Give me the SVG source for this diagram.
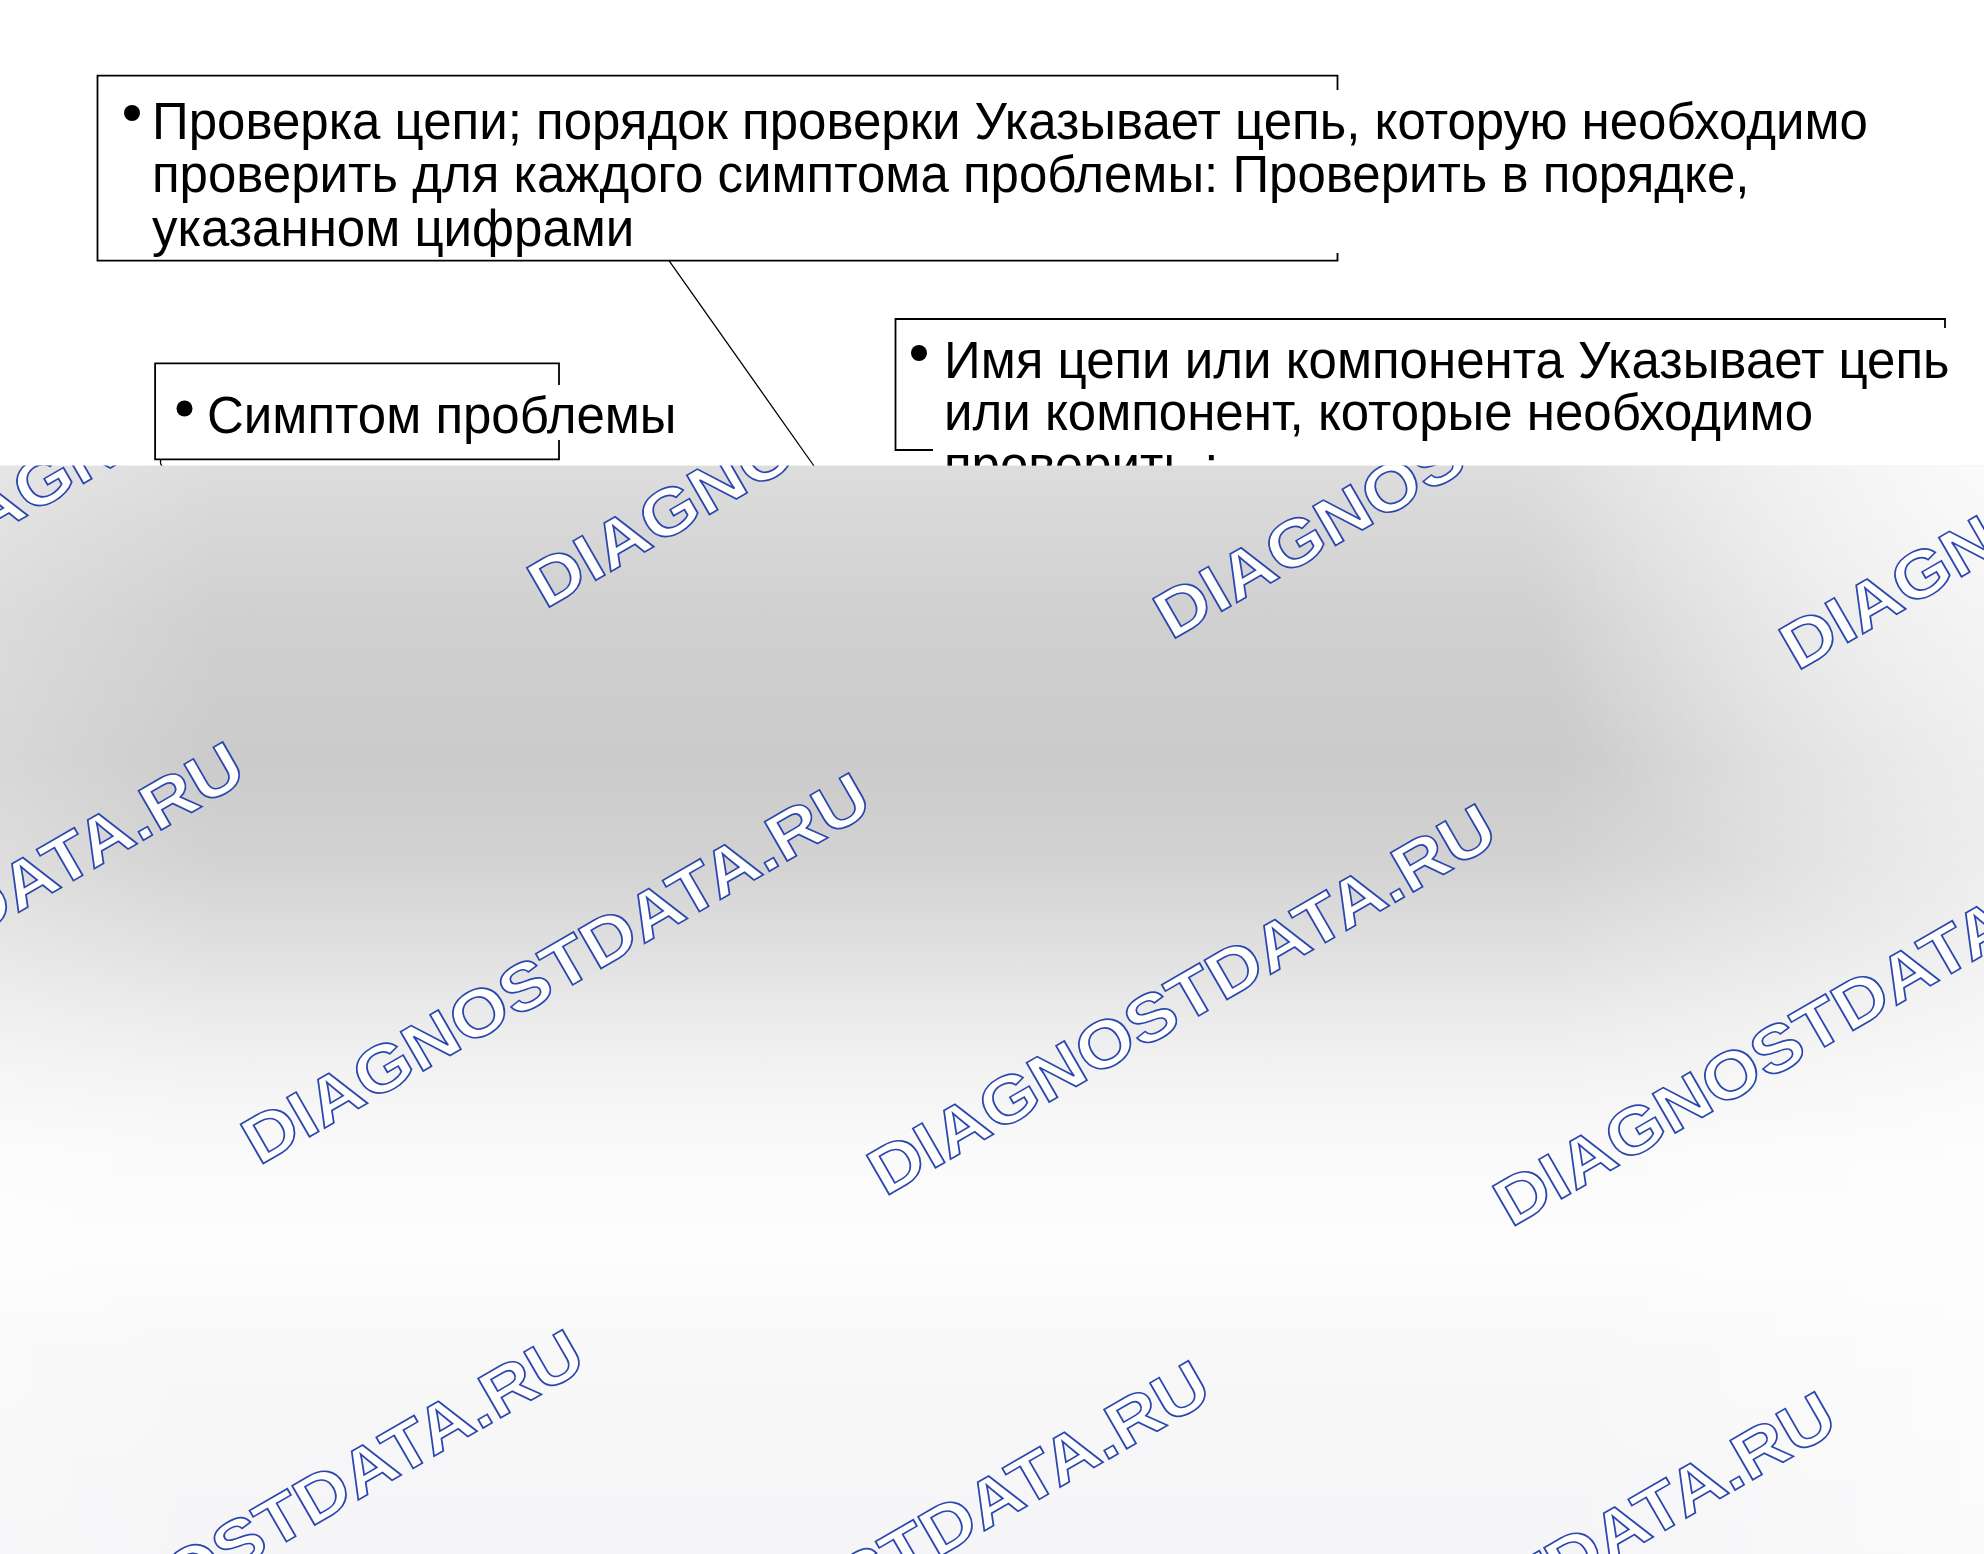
<svg xmlns="http://www.w3.org/2000/svg" width="1984" height="1554" viewBox="0 0 1984 1554">
<style>
.box{fill:none;stroke:#000;stroke-width:1.8}
.lbl{font-family:"Liberation Sans",Arial,sans-serif;font-size:51px;fill:#000}
.dot{fill:#000}
.con{fill:none;stroke:#000;stroke-width:1.3}
.wm{font-family:"Liberation Sans",Arial,sans-serif;font-weight:bold;font-size:66px;fill:#fff;stroke:#2b47ad;stroke-width:1.6}
</style>
<defs>
<linearGradient id="gv" x1="0" y1="465.6" x2="0" y2="1554" gradientUnits="userSpaceOnUse">
<stop offset="0" stop-color="#dddddd"/>
<stop offset="0.05" stop-color="#d8d8d8"/>
<stop offset="0.14" stop-color="#d0d0d0"/>
<stop offset="0.27" stop-color="#cbcbcb"/>
<stop offset="0.36" stop-color="#d2d2d2"/>
<stop offset="0.445" stop-color="#e0e0e0"/>
<stop offset="0.5" stop-color="#eaeaea"/>
<stop offset="0.56" stop-color="#f3f3f3"/>
<stop offset="0.63" stop-color="#fafafa"/>
<stop offset="0.72" stop-color="#fdfdfd"/>
<stop offset="0.81" stop-color="#f8f8f9"/>
<stop offset="1" stop-color="#f5f5f7"/>
</linearGradient>
<linearGradient id="gr" x1="1550" y1="0" x2="1984" y2="0" gradientUnits="userSpaceOnUse">
<stop offset="0" stop-color="#fff" stop-opacity="0"/>
<stop offset="1" stop-color="#fff" stop-opacity="0.55"/>
</linearGradient>
<radialGradient id="gtr" cx="1984" cy="470" r="480" gradientUnits="userSpaceOnUse">
<stop offset="0" stop-color="#fff" stop-opacity="0.7"/>
<stop offset="1" stop-color="#fff" stop-opacity="0"/>
</radialGradient>
<linearGradient id="gl" x1="0" y1="0" x2="220" y2="0" gradientUnits="userSpaceOnUse">
<stop offset="0" stop-color="#fff" stop-opacity="0.25"/>
<stop offset="1" stop-color="#fff" stop-opacity="0"/>
</linearGradient>
<clipPath id="clipGray"><rect x="0" y="465.6" width="1984" height="1088.4"/></clipPath>
</defs>
<rect x="0" y="0" width="1984" height="1554" fill="#fff"/>

<g id="connectors">
<path class="con" d="M669,260.6 L814,466"/>
<path class="con" d="M161,459.3 Q159.5,463 162,466"/>
</g>

<g id="node-check-order">
<path class="box" d="M1337.5,90 V75.7 H97.5 V260.6 H1337.5 V253"/>
<circle class="dot" cx="132" cy="113" r="8"/>
<text class="lbl" x="152" y="138.8">Проверка цепи; порядок проверки Указывает цепь, которую необходимо</text>
<text class="lbl" x="152" y="192.3">проверить для каждого симптома проблемы: Проверить в порядке,</text>
<text class="lbl" x="152" y="245.8">указанном цифрами</text>
</g>

<g id="node-symptom">
<path class="box" d="M559,385 V363.3 H155.1 V459.3 H559 V440"/>
<circle class="dot" cx="184.5" cy="408.5" r="8"/>
<text class="lbl" x="207" y="432.5">Симптом проблемы</text>
</g>

<g id="node-circuit-name">
<path class="box" d="M1945,328 V319 H895.5 V450 H933"/>
<circle class="dot" cx="919" cy="353" r="8"/>
<text class="lbl" x="944" y="377.5">Имя цепи или компонента Указывает цепь</text>
<text class="lbl" x="944" y="430">или компонент, которые необходимо</text>
<text class="lbl" x="944" y="482.5">проверить :</text>
</g>

<g id="backdrop">
<rect x="0" y="465.6" width="1984" height="1088.4" fill="url(#gv)"/>
<rect x="0" y="465.6" width="1984" height="1088.4" fill="url(#gr)"/>
<rect x="0" y="465.6" width="1984" height="1088.4" fill="url(#gtr)"/>
<rect x="0" y="465.6" width="1984" height="1088.4" fill="url(#gl)"/>
</g>

<g id="watermarks" clip-path="url(#clipGray)">
<text class="wm" transform="translate(-80.7,578.3) rotate(-30) scale(1.12,1)">DIAGNOSTDATA.RU</text>
<text class="wm" transform="translate(545.3,609.4) rotate(-30) scale(1.12,1)">DIAGNOSTDATA.RU</text>
<text class="wm" transform="translate(1171.3,640.5) rotate(-30) scale(1.12,1)">DIAGNOSTDATA.RU</text>
<text class="wm" transform="translate(1797.3,671.6) rotate(-30) scale(1.12,1)">DIAGNOSTDATA.RU</text>
<text class="wm" transform="translate(-367,1135) rotate(-30) scale(1.12,1)">DIAGNOSTDATA.RU</text>
<text class="wm" transform="translate(259,1166) rotate(-30) scale(1.12,1)">DIAGNOSTDATA.RU</text>
<text class="wm" transform="translate(885,1197) rotate(-30) scale(1.12,1)">DIAGNOSTDATA.RU</text>
<text class="wm" transform="translate(1511,1228) rotate(-30) scale(1.12,1)">DIAGNOSTDATA.RU</text>
<text class="wm" transform="translate(-27.3,1722.6) rotate(-30) scale(1.12,1)">DIAGNOSTDATA.RU</text>
<text class="wm" transform="translate(598.7,1753.6) rotate(-30) scale(1.12,1)">DIAGNOSTDATA.RU</text>
<text class="wm" transform="translate(1224.7,1784.6) rotate(-30) scale(1.12,1)">DIAGNOSTDATA.RU</text>
</g>
</svg>
